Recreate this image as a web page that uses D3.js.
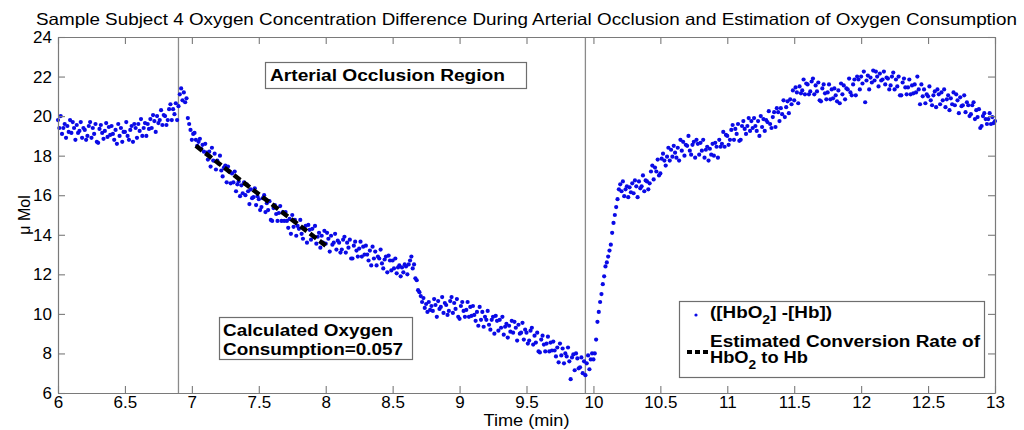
<!DOCTYPE html>
<html><head><meta charset="utf-8">
<script src="https://cdn.jsdelivr.net/npm/d3@7"></script>
<style>
body{margin:0;background:#fff}
svg{display:block}
text{font-family:"Liberation Sans",Arial,Helvetica,sans-serif;fill:#000}
</style>
</head><body>
<svg id="chart" width="1024" height="430"></svg>
<script>
// ---- data ----
const startMin = 6;
const stepMin = 0.01;
const diffValues = [
19.8,19.4,20.0,19.1,19.4,19.6,18.9,19.5,19.2,19.8,
19.15,19.7,19.4,18.8,19.55,19.15,19.25,19.7,18.9,19.4,
19.3,18.8,19.0,19.5,19.7,18.9,19.4,19.1,19.6,18.7,
18.65,19.35,19.55,19.15,18.85,19.25,19.65,18.95,19.45,19.05,
19.5,19.1,18.8,19.3,18.6,19.6,19.0,19.4,18.7,19.2,
19.2,19.7,19.0,18.8,19.3,19.5,18.7,19.6,19.4,18.9,
19.6,19.25,19.85,19.0,19.4,19.65,19.0,19.6,19.35,19.85,
19.4,20.05,19.75,19.2,20.0,19.65,19.8,20.3,19.55,20.05,
20.0,19.55,19.8,20.35,20.6,19.8,20.35,20.1,20.65,19.8,
20.5,21.1,21.4,20.8,21.2,20.7,20.9,19.9,19.6,19.3,
18.8,19.1,19.15,18.8,18.5,18.7,18.85,18.35,18.55,18.2,
18.6,18.15,17.8,18.2,17.45,18.4,17.75,18.1,17.3,17.75,
17.6,18.0,17.25,16.95,17.4,17.5,16.65,17.45,17.2,16.6,
17.1,16.65,17.2,16.2,16.55,16.7,15.95,16.5,16.1,16.65,
16.0,16.55,16.2,15.55,16.3,15.85,15.9,16.35,15.5,15.95,
15.8,15.25,15.4,15.85,16.0,15.15,15.6,15.25,15.7,14.75,
14.7,15.35,15.5,15.05,14.7,15.1,15.45,14.7,15.15,14.7,
15.15,14.7,14.35,14.8,14.05,15.0,14.4,14.75,13.95,14.45,
14.3,14.75,14.05,13.8,14.3,14.45,13.6,14.5,14.25,13.75,
14.3,13.9,14.45,13.55,13.9,14.1,13.35,13.95,13.6,14.2,
13.55,14.1,13.8,13.15,13.95,13.5,13.6,14.05,13.25,13.7,
13.6,13.1,13.25,13.75,13.9,13.1,13.6,13.35,13.75,12.8,
12.8,13.45,13.65,13.2,12.9,13.3,13.65,12.9,13.4,13.0,
13.45,13.0,12.7,13.2,12.45,13.4,12.8,13.15,12.45,12.9,
12.8,13.25,12.55,12.3,12.75,12.9,12.1,12.95,12.7,12.2,
12.7,12.3,12.8,12.05,12.35,12.45,11.9,12.35,12.1,12.5,
12.4,12.0,12.5,12.7,12.9,12.3,12.5,11.8,11.7,11.2,
11.1,10.9,10.6,10.8,10.3,10.5,10.1,10.6,10.2,10.4,
10.15,10.75,10.45,9.85,10.65,10.25,10.35,10.85,10.05,10.55,
10.45,9.95,10.15,10.65,10.85,10.05,10.55,10.25,10.75,9.85,
9.75,10.4,10.6,10.15,9.85,10.2,10.6,9.85,10.35,9.9,
10.4,9.95,9.65,10.1,9.4,10.35,9.7,10.1,9.35,9.85,
9.7,10.15,9.45,9.2,9.7,9.85,9.0,9.9,9.65,9.15,
9.7,9.3,9.85,8.95,9.35,9.5,8.8,9.4,9.1,9.65,
9.05,9.6,9.3,8.65,9.45,9.0,9.05,9.55,8.7,9.2,
9.05,8.5,8.65,9.15,9.3,8.45,8.9,8.55,9.05,8.1,
8.05,8.7,8.9,8.45,8.1,8.5,8.85,8.1,8.55,8.15,
8.6,8.15,7.85,8.3,7.55,8.5,7.9,8.25,7.5,8.0,
7.85,8.3,7.6,6.7,7.8,7.95,7.15,8.0,7.75,7.25,
7.3,7.8,7.0,7.6,6.9,7.5,7.9,7.2,7.7,8.0,
7.7,8.0,8.7,9.6,10.1,10.6,11.0,11.5,11.9,12.4,
12.6,12.9,13.2,13.5,14.1,14.6,15.0,15.4,15.8,16.3,
16.55,16.2,16.7,15.95,16.3,16.45,15.9,16.4,16.15,16.6,
16.1,16.75,16.45,15.9,16.7,16.35,16.45,17.0,16.2,16.75,
16.7,16.3,16.6,17.2,17.5,16.8,17.4,17.2,17.8,17.0,
17.1,17.85,18.1,17.75,17.5,17.95,18.4,17.75,18.3,17.95,
18.5,18.15,17.9,18.4,17.75,18.8,18.25,18.7,18.0,18.55,
18.5,19.0,18.25,18.05,18.55,18.7,17.9,18.8,18.6,18.05,
18.65,18.25,18.8,17.9,18.3,18.45,17.75,18.35,18.05,18.6,
18.0,18.65,18.45,17.9,18.8,18.45,18.6,19.2,18.45,19.05,
19.0,18.55,18.8,19.3,19.55,18.8,19.35,19.1,19.6,18.75,
18.8,19.5,19.75,19.35,19.1,19.5,19.9,19.25,19.75,19.4,
19.9,19.5,19.25,19.75,19.0,20.0,19.45,19.85,19.25,19.8,
19.7,20.25,19.6,19.4,19.95,20.2,19.45,20.4,20.2,19.75,
20.4,20.1,20.8,19.95,20.45,20.75,20.15,20.85,20.6,21.3,
20.8,21.45,21.2,20.65,21.5,21.15,21.3,21.85,21.1,21.65,
21.6,21.1,21.25,21.75,21.9,21.1,21.55,21.25,21.7,20.8,
20.75,21.4,21.6,21.15,20.85,21.2,21.6,20.85,21.35,20.9,
21.4,21.05,20.75,21.3,20.65,21.65,21.1,21.55,20.85,21.4,
21.35,21.9,21.2,21.05,21.6,21.85,21.05,22.0,21.85,21.35,
22.0,21.65,22.25,20.7,21.8,22.05,21.35,21.95,21.7,22.3,
21.8,22.25,22.0,21.5,22.15,21.8,21.85,22.25,21.6,21.95,
21.9,21.35,21.55,22.0,22.2,21.35,21.85,21.5,22.0,21.05,
21.05,21.7,21.9,21.45,21.1,21.45,21.85,21.1,21.55,21.15,
21.6,21.2,22.0,21.35,20.6,21.6,21.0,21.35,20.65,21.1,
21.0,21.5,20.8,20.55,21.05,21.25,20.45,21.35,21.1,20.6,
21.2,20.8,21.35,20.45,20.85,21.05,20.3,20.9,20.6,21.2,
20.55,21.1,20.8,20.15,20.95,20.5,20.55,21.05,20.2,20.7,
20.55,20.0,20.1,20.55,20.7,19.85,20.3,19.95,20.35,19.4,
19.5,20.0,20.15,19.85,19.6,19.85,20.15,19.6,19.95,19.65,
19.75
];
const fitTimes = [7.03, 8.0];
const fitValues = [18.5, 13.45];
const occlusionMarks = [6.9, 9.94];
const xTicks = [6, 6.5, 7, 7.5, 8, 8.5, 9, 9.5, 10, 10.5, 11, 11.5, 12, 12.5, 13];
const xTickLabels = ["6","6.5","7","7.5","8","8.5","9","9.5","10","10.5","11","11.5","12","12.5","13"];
const yTicks = [6, 8, 10, 12, 14, 16, 18, 20, 22, 24];
const yTickLabels = ["6","8","10","12","14","16","18","20","22","24"];
const titleText = "Sample Subject 4 Oxygen Concentration Difference During Arterial Occlusion and Estimation of Oxygen Consumption";
const xLabel = "Time (min)";
const yLabel = "\u03bc Mol";

// ---- drawing ----
const svg = d3.select("#chart");
const L = 58, R = 995, T = 37, B = 393;
const x = d3.scaleLinear().domain([6, 13]).range([L, R]);
const y = d3.scaleLinear().domain([6, 24]).range([B, T]);
const axisColor = "#7a7a7a";

svg.append("rect").attr("width", 1024).attr("height", 430).attr("fill", "#fff");

const points = diffValues.map((v, i) => ({t: startMin + i * stepMin, v}));

// occlusion boundary lines
svg.append("g").selectAll("line").data(occlusionMarks).join("line")
  .attr("x1", d => x(d)).attr("x2", d => x(d))
  .attr("y1", y(24)).attr("y2", y(6))
  .attr("stroke", "#8a8a8a").attr("stroke-width", 1.3);

// scatter
svg.append("g").selectAll("circle").data(points).join("circle")
  .attr("cx", d => x(d.t)).attr("cy", d => y(d.v))
  .attr("r", 2.1).attr("fill", "#0a0ae6");

// fit line
const fitLine = d3.line().x(d => x(d[0])).y(d => y(d[1]));
svg.append("path").datum(fitTimes.map((t, i) => [t, fitValues[i]]))
  .attr("d", fitLine).attr("fill", "none").attr("stroke", "#000")
  .attr("stroke-width", 4.5).attr("stroke-dasharray", "8,4");

// axes
function styleAxis(g) {
  g.select(".domain").attr("stroke", axisColor).attr("stroke-width", 1.2);
  g.selectAll(".tick line").attr("stroke", axisColor).attr("stroke-width", 1.1);
  g.selectAll(".tick text").attr("fill", "#000")
    .style("font-family", '"Liberation Sans",Arial,sans-serif').style("font-size", "17px");
}
const xFmt = d => xTickLabels[xTicks.indexOf(d)];
const yFmt = d => yTickLabels[yTicks.indexOf(d)];
svg.append("g").attr("transform", `translate(0,${B})`)
  .call(d3.axisBottom(x).tickValues(xTicks).tickFormat(xFmt).tickSizeInner(-7).tickSizeOuter(0).tickPadding(3))
  .call(styleAxis);
svg.append("g").attr("transform", `translate(0,${T})`)
  .call(d3.axisTop(x).tickValues(xTicks).tickFormat("").tickSizeInner(-7).tickSizeOuter(0))
  .call(styleAxis);
svg.append("g").attr("transform", `translate(${L},0)`)
  .call(d3.axisLeft(y).tickValues(yTicks).tickFormat(yFmt).tickSizeInner(-7).tickSizeOuter(0).tickPadding(6))
  .call(styleAxis);
svg.append("g").attr("transform", `translate(${R},0)`)
  .call(d3.axisRight(y).tickValues(yTicks).tickFormat("").tickSizeInner(-7).tickSizeOuter(0))
  .call(styleAxis);

// title
svg.append("text").attr("x", (L + R) / 2).attr("y", 25).attr("text-anchor", "middle")
  .style("font-size", "16.5px").attr("textLength", 981).attr("lengthAdjust", "spacingAndGlyphs")
  .text(titleText);
// axis labels
svg.append("text").attr("x", (L + R) / 2).attr("y", 426).attr("text-anchor", "middle")
  .style("font-size", "16px").attr("textLength", 86).attr("lengthAdjust", "spacingAndGlyphs").text(xLabel);
svg.append("text").attr("transform", `translate(30,${(T + B) / 2}) rotate(-90)`)
  .attr("text-anchor", "middle").style("font-size", "16px").text(yLabel);

// annotation boxes
function box(x0, y0, w, h) {
  svg.append("rect").attr("x", x0).attr("y", y0).attr("width", w).attr("height", h)
    .attr("fill", "#fff").attr("stroke", "#6e6e6e").attr("stroke-width", 1.2);
}
box(265.5, 62.5, 261, 26);
svg.append("text").attr("x", 270).attr("y", 81).style("font-size", "16px").style("font-weight", "bold")
  .attr("textLength", 235).attr("lengthAdjust", "spacingAndGlyphs").text("Arterial Occlusion Region");

box(219.5, 317.5, 193, 42);
svg.append("text").attr("x", 223).attr("y", 336).style("font-size", "16px").style("font-weight", "bold")
  .attr("textLength", 170).attr("lengthAdjust", "spacingAndGlyphs").text("Calculated Oxygen");
svg.append("text").attr("x", 223).attr("y", 355).style("font-size", "16px").style("font-weight", "bold")
  .attr("textLength", 180).attr("lengthAdjust", "spacingAndGlyphs").text("Consumption=0.057");

// legend
box(679.5, 301.5, 305, 76);
svg.append("circle").attr("cx", 696).attr("cy", 315).attr("r", 1.6).attr("fill", "#0a0ae6");
const t1 = svg.append("text").attr("x", 710).attr("y", 318).style("font-size", "16px").style("font-weight", "bold")
  .attr("textLength", 122).attr("lengthAdjust", "spacingAndGlyphs");
t1.append("tspan").text("([HbO");
t1.append("tspan").attr("dy", 6).style("font-size", "12px").text("2");
t1.append("tspan").attr("dy", -6).text("] -[Hb])");

svg.append("line").attr("x1", 687).attr("x2", 708).attr("y1", 352).attr("y2", 352)
  .attr("stroke", "#000").attr("stroke-width", 4).attr("stroke-dasharray", "5,3");
svg.append("text").attr("x", 710).attr("y", 347).style("font-size", "16px").style("font-weight", "bold")
  .attr("textLength", 270).attr("lengthAdjust", "spacingAndGlyphs").text("Estimated Conversion Rate of");
const t2 = svg.append("text").attr("x", 710).attr("y", 363).style("font-size", "16px").style("font-weight", "bold")
  .attr("textLength", 98).attr("lengthAdjust", "spacingAndGlyphs");
t2.append("tspan").text("HbO");
t2.append("tspan").attr("dy", 6).style("font-size", "12px").text("2");
t2.append("tspan").attr("dy", -6).text(" to Hb");
</script>
</body></html>
